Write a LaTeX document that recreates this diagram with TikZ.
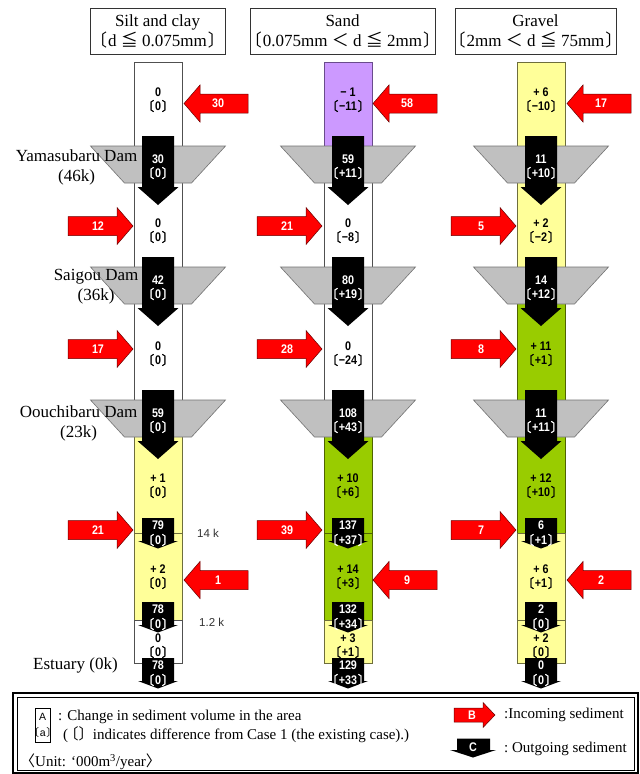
\documentclass[tikz,border=0pt]{standalone}
\usepackage{fontspec}
\setmainfont{Liberation Serif}
\newfontfamily\numfont{Liberation Sans}[FakeStretch=0.86]
\newfontfamily\sansfont{Liberation Sans}
\newfontfamily\cjk{Noto Sans CJK JP}[AutoFakeBold=2]

\definecolor{barY}{HTML}{FFFF99}
\definecolor{barG}{HTML}{99CC00}
\definecolor{barP}{HTML}{CC99FF}
\definecolor{damgray}{HTML}{C0C0C0}
\definecolor{yline}{HTML}{6E6E3C}
\definecolor{gline}{HTML}{4F6400}
\definecolor{pline}{HTML}{6A4C8C}
\definecolor{wline}{HTML}{505050}

% tortoise-shell brackets set close to the numbers
\newcommand\lb{{\cjk\kern-0.6em〔\kern0.06em}}
\newcommand\rb{{\cjk\kern0.06em〕\kern-0.6em}}

\tikzset{
  redarrow/.style={fill=red, draw=black!60!red, line width=0.5pt, line join=miter},
  outarrow/.style={fill=black},
  dam/.style={fill=damgray, draw=black!55, line width=0.6pt},
  inlbl/.style={text=white, inner sep=0pt, font=\numfont\bfseries\fontsize{12.5}{12.5}\selectfont},
  outlbl/.style={text=white, inner sep=0pt, font=\numfont\bfseries\fontsize{12.5}{12.5}\selectfont},
  vallbl/.style={text=black, inner sep=0pt, font=\numfont\bfseries\fontsize{12.5}{12.5}\selectfont},
  hdr/.style={draw=black!80, line width=0.6pt, minimum height=46pt, inner sep=0pt, align=center,
    font=\fontsize{17}{20}\selectfont},
  damname/.style={anchor=east, inner sep=0pt, align=center, font=\fontsize{17}{20}\selectfont},
  kmlbl/.style={anchor=west, inner sep=0pt, text=black!80, font=\sansfont\fontsize{11.5}{11.5}\selectfont},
  legtext/.style={anchor=west, inner sep=0pt, font=\fontsize{15}{15}\selectfont},
  keylbl/.style={text=black, inner sep=0pt, font=\sansfont\fontsize{10.5}{10.5}\selectfont},
}

% name, x, y, change, difference
\newcommand\regionlbl[5]{%
  \node[vallbl] (#1v) at (#2,#3) {#4};
  \node[vallbl] (#1d) at (#2,#3+14) {\lb#5\rb};}

% outgoing sediment through a dam: name, x, top, value, difference
\newcommand\damout[5]{%
  \fill[outarrow] (#2-16,#3) -- (#2+16,#3) -- (#2+16,#3+51) -- (#2+20.5,#3+51)
    -- (#2,#3+69) -- (#2-20.5,#3+51) -- (#2-16,#3+51) -- cycle;
  \node[outlbl] (#1v) at (#2,#3+23) {#4};
  \node[outlbl] (#1d) at (#2,#3+37) {\lb#5\rb};}

% outgoing sediment at a section boundary: name, x, top, value, difference
\newcommand\secout[5]{%
  \fill[outarrow] (#2-16,#3) -- (#2+16,#3) -- (#2+16,#3+23) -- (#2+20,#3+23)
    -- (#2,#3+30.5) -- (#2-20,#3+23) -- (#2-16,#3+23) -- cycle;
  \node[outlbl] (#1v) at (#2,#3+7) {#4};
  \node[outlbl] (#1d) at (#2,#3+22) {\lb#5\rb};}

% incoming sediment, arrow pointing right: name, tip x, y, value
\newcommand\inright[4]{%
  \draw[redarrow] (#2,#3) -- (#2-16,#3-18.5) -- (#2-16,#3-9.5) -- (#2-65,#3-9.5)
    -- (#2-65,#3+9.5) -- (#2-16,#3+9.5) -- (#2-16,#3+18.5) -- cycle;
  \node[inlbl] (#1) at (#2-35,#3) {#4};}

% incoming sediment, arrow pointing left: name, tip x, y, value
\newcommand\inleft[4]{%
  \draw[redarrow] (#2,#3) -- (#2+16,#3-18.5) -- (#2+16,#3-9.5) -- (#2+64,#3-9.5)
    -- (#2+64,#3+9.5) -- (#2+16,#3+9.5) -- (#2+16,#3+18.5) -- cycle;
  \node[inlbl] (#1) at (#2+34,#3) {#4};}

% dam body: name, centre x, top y
\newcommand\dambody[3]{%
  \draw[dam] (#2-67.5,#3) -- (#2+67.5,#3) -- (#2+33.5,#3+37) -- (#2-33.5,#3+37) -- cycle;
  \coordinate (#1) at (#2,#3+18.5);}

\begin{document}
\begin{tikzpicture}[x=1pt,y=-1pt]
\useasboundingbox[fill=white] (0,0) rectangle (640,774);

% ---------- headers ----------
\node[hdr, minimum width=135pt] (h1) at (157.5,31) {Silt and clay\\\lb d {\cjk ≦} 0.075mm\rb};
\node[hdr, minimum width=185pt] (h2) at (342.5,31) {Sand\\\lb 0.075mm {\cjk ＜} d {\cjk ≦} 2mm\rb};
\node[hdr, minimum width=161pt] (h3) at (535.5,31) {Gravel\\\lb 2mm {\cjk ＜} d {\cjk ≦} 75mm\rb};

% ---------- river sections ----------
% silt and clay
\draw[fill=white, draw=wline, line width=0.7pt] (134,62) rectangle (182,418);
\draw[fill=barY, draw=yline, line width=0.7pt] (134,418) rectangle (182,620);
\draw[fill=white, draw=wline, line width=0.7pt] (134,620) rectangle (182,663);
\draw[yline, line width=0.7pt] (134,533) -- (182,533);
% sand
\draw[fill=barP, draw=pline, line width=0.7pt] (324,62) rectangle (372,165);
\draw[fill=white, draw=wline, line width=0.7pt] (324,165) rectangle (372,418);
\draw[fill=barG, draw=gline, line width=0.7pt] (324,418) rectangle (372,620);
\draw[fill=barY, draw=yline, line width=0.7pt] (324,620) rectangle (372,663);
\draw[gline, line width=0.7pt] (324,533) -- (372,533);
% gravel
\draw[fill=barY, draw=yline, line width=0.7pt] (517,62) rectangle (565,285);
\draw[fill=barG, draw=gline, line width=0.7pt] (517,285) rectangle (565,533);
\draw[fill=barY, draw=yline, line width=0.7pt] (517,533) rectangle (565,663);
\draw[yline, line width=0.7pt] (517,620) -- (565,620);

% ---------- dams ----------
\dambody{dY1}{158}{146} \dambody{dS1}{158}{267} \dambody{dO1}{158}{400}
\dambody{dY2}{348}{146} \dambody{dS2}{348}{267} \dambody{dO2}{348}{400}
\dambody{dY3}{541}{146} \dambody{dS3}{541}{267} \dambody{dO3}{541}{400}

\node[damname] (nY) at (137.5,167) {Yamasubaru Dam\\(46k)};
\node[damname] (nS) at (138.5,287) {Saigou Dam\\(36k)};
\node[damname] (nO) at (137.5,423) {Oouchibaru Dam\\(23k)};
\node[damname, anchor=west] (nE) at (33,665) {Estuary (0k)};
\node[kmlbl] (k14) at (197,533.5) {14 k};
\node[kmlbl] (k12) at (199,622) {1.2 k};

% ---------- silt and clay ----------
\regionlbl{a1}{158}{92}{0}{0}
\damout{o1}{158}{136}{30}{0}
\regionlbl{a2}{158}{223}{0}{0}
\damout{o2}{158}{257}{42}{0}
\regionlbl{a3}{158}{346}{0}{0}
\damout{o3}{158}{390}{59}{0}
\regionlbl{a4}{158}{478}{+ 1}{0}
\secout{o4}{158}{518}{79}{0}
\regionlbl{a5}{158}{569}{+ 2}{0}
\secout{o5}{158}{602}{78}{0}
\regionlbl{a6}{158}{638}{0}{0}
\secout{o6}{158}{658}{78}{0}
\inleft{i1}{184}{103.5}{30}
\inright{i2}{133}{226}{12}
\inright{i3}{133}{349}{17}
\inright{i4}{133}{530}{21}
\inleft{i5}{184}{580}{1}

% ---------- sand ----------
\regionlbl{b1}{348}{92}{− 1}{−11}
\damout{p1}{348}{136}{59}{+11}
\regionlbl{b2}{348}{223}{0}{−8}
\damout{p2}{348}{257}{80}{+19}
\regionlbl{b3}{348}{346}{0}{−24}
\damout{p3}{348}{390}{108}{+43}
\regionlbl{b4}{348}{478}{+ 10}{+6}
\secout{p4}{348}{518}{137}{+37}
\regionlbl{b5}{348}{569}{+ 14}{+3}
\secout{p5}{348}{602}{132}{+34}
\regionlbl{b6}{348}{638}{+ 3}{+1}
\secout{p6}{348}{658}{129}{+33}
\inleft{j1}{373}{103.5}{58}
\inright{j2}{322}{226}{21}
\inright{j3}{322}{349}{28}
\inright{j4}{322}{530}{39}
\inleft{j5}{373}{580}{9}

% ---------- gravel ----------
\regionlbl{c1}{541}{92}{+ 6}{−10}
\damout{q1}{541}{136}{11}{+10}
\regionlbl{c2}{541}{223}{+ 2}{−2}
\damout{q2}{541}{257}{14}{+12}
\regionlbl{c3}{541}{346}{+ 11}{+1}
\damout{q3}{541}{390}{11}{+11}
\regionlbl{c4}{541}{478}{+ 12}{+10}
\secout{q4}{541}{518}{6}{+1}
\regionlbl{c5}{541}{569}{+ 6}{+1}
\secout{q5}{541}{602}{2}{0}
\regionlbl{c6}{541}{638}{+ 2}{0}
\secout{q6}{541}{658}{0}{0}
\inright{k2}{516}{226}{5}
\inright{k3}{516}{349}{8}
\inright{k4}{516}{530}{7}
\inleft{k1}{567}{103.5}{17}
\inleft{k5}{567}{580}{2}

% ---------- legend ----------
\draw[line width=1.3pt] (13,693) rectangle (638,773);
\draw[line width=0.8pt] (17,697) rectangle (634,770);
\draw[line width=0.6pt] (35,708) rectangle (50.5,742);
\node[keylbl] (lA) at (42.75,717) {A};
\node[keylbl] (la) at (42.75,732) {\lb a\rb};
\node[legtext] (t1) at (58,717) {: Change in sediment volume in the area};
\node[legtext] (t2) at (63,735) {({\cjk\kern-0.3em〔〕\kern-0.3em} indicates difference from Case 1 (the existing case).)};
\node[legtext] (t3) at (20,762) {{\cjk〈}Unit: ‘000m\textsuperscript{3}/year{\cjk〉}};
\draw[redarrow] (495,715) -- (483,702.5) -- (483,708) -- (454,708) -- (454,722) -- (483,722) -- (483,727.5) -- cycle;
\node[inlbl] (lB) at (472,715) {B};
\node[legtext] (t4) at (504,715) {:Incoming sediment};
\fill[outarrow] (457,738.5) -- (490,738.5) -- (490,750) -- (496,750) -- (473,757.5) -- (450,750) -- (457,750) -- cycle;
\node[inlbl] (lC) at (473,747) {C};
\node[legtext] (t5) at (504,749) {:\ Outgoing sediment};
\end{tikzpicture}
\end{document}
